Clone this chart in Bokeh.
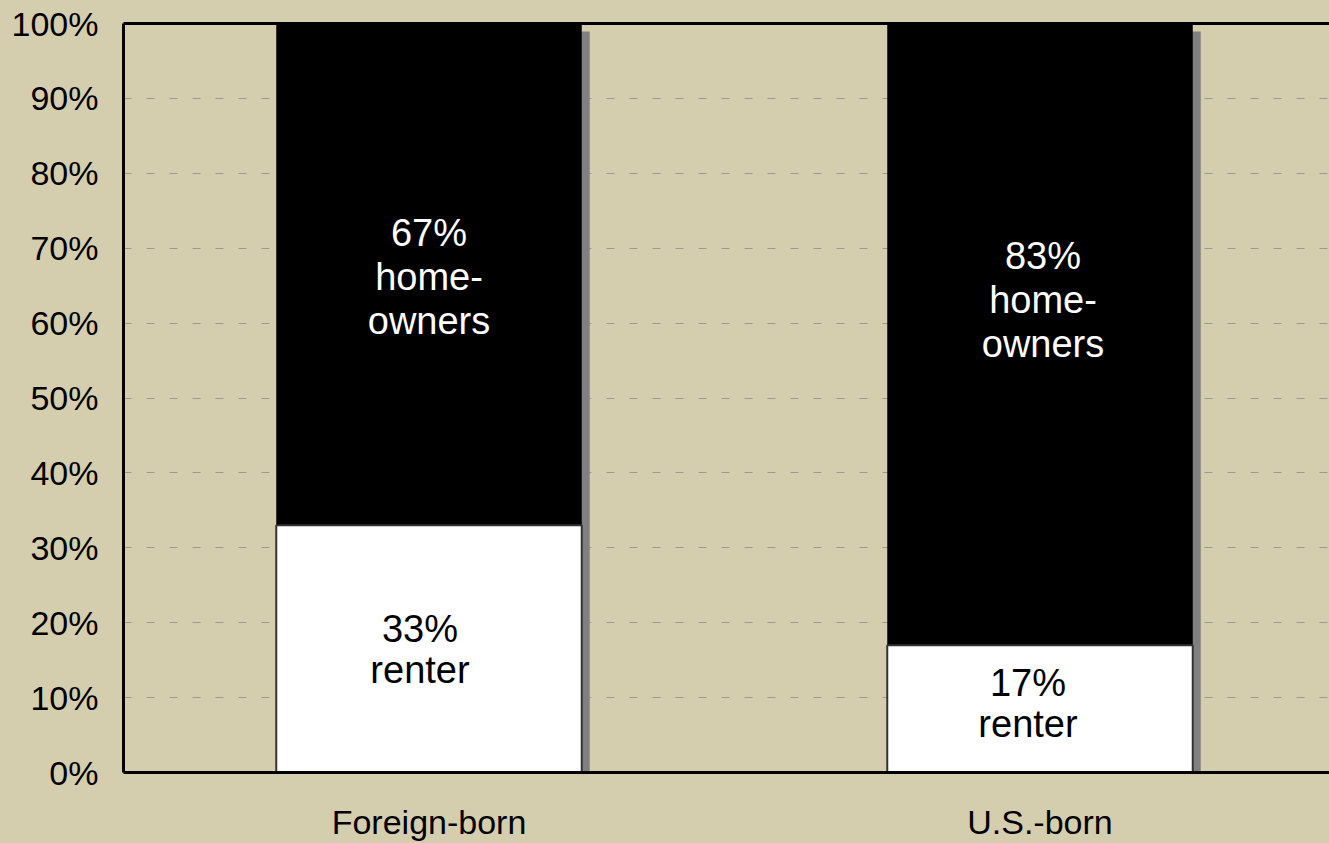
from bokeh.plotting import figure
from bokeh.models import Range1d, FixedTicker, LinearAxis
from bokeh.embed import file_html
from bokeh.resources import INLINE
from bokeh.core.properties import value

# ---- data ----
categories = ["Foreign-born", "U.S.-born"]
homeowner_pct = [67, 83]
renter_pct = [33, 17]
homeowner_labels = ["67%\nhome-\nowners", "83%\nhome-\nowners"]
renter_labels = ["33%\nrenter", "17%\nrenter"]
y_ticks = [0, 10, 20, 30, 40, 50, 60, 70, 80, 90, 100]
y_tick_labels = [f"{t}%" for t in y_ticks]

# ---- style / layout ----
BG = "#D5CEAE"
FONT = "Liberation Sans"
W, H = 1329, 843
LEFT, TOP = 123, 23
FRAME_H = 750
BOTTOM = H - TOP - FRAME_H
CAT_PX = 611.0
FRAME_W = W - LEFT
X_END = FRAME_W / CAT_PX
PX_PER_PCT = FRAME_H / 100.0
BAR_W = 0.5
SHADOW_PX = 8
home_label_dy = [-0.33, 4.6]
renter_label_dy = [-0.1, 0.7]
home_label_dx = [0, 3]
renter_label_dx = [-9, -12]

p = figure(width=W, height=H, x_range=Range1d(0, X_END), y_range=Range1d(0, 100),
           output_backend="svg", toolbar_location=None,
           min_border_left=LEFT, min_border_right=0, min_border_top=TOP,
           min_border_bottom=BOTTOM, background_fill_color=BG,
           border_fill_color=BG, outline_line_color=None)

centers = [i + 0.5 for i in range(len(categories))]
dx = SHADOW_PX / CAT_PX
dy = SHADOW_PX / PX_PER_PCT

totals = [h + r for h, r in zip(homeowner_pct, renter_pct)]

# shadows
p.quad(left=[c - BAR_W / 2 + dx for c in centers],
       right=[c + BAR_W / 2 + dx for c in centers],
       bottom=[0] * len(centers), top=[t - dy for t in totals],
       fill_color="#808080", line_color=None)

# homeowners (top, black)
p.quad(left=[c - BAR_W / 2 for c in centers], right=[c + BAR_W / 2 for c in centers],
       bottom=renter_pct, top=totals, fill_color="#000000", line_color=None)

# renters (bottom, white)
p.quad(left=[c - BAR_W / 2 for c in centers], right=[c + BAR_W / 2 for c in centers],
       bottom=[0] * len(centers), top=renter_pct, fill_color="#FFFFFF",
       line_color="#333333", line_width=2)

# labels
for i, c in enumerate(centers):
    p.text(x=[c], y=[renter_pct[i] + homeowner_pct[i] / 2 + home_label_dy[i]],
           text=[homeowner_labels[i]], x_offset=home_label_dx[i],
           text_align="center", text_baseline="middle", text_color="white",
           text_font=value(FONT), text_font_size="38px", text_line_height=1.04)
    p.text(x=[c], y=[renter_pct[i] / 2 + renter_label_dy[i]],
           text=[renter_labels[i]], x_offset=renter_label_dx[i],
           text_align="center", text_baseline="middle", text_color="black",
           text_font=value(FONT), text_font_size="38px", text_line_height=0.98)

# y axis
ya = p.yaxis[0]
ya.ticker = FixedTicker(ticks=y_ticks)
ya.major_label_overrides = dict(zip(y_ticks, y_tick_labels))
ya.major_tick_line_color = None
ya.minor_tick_line_color = None
ya.major_tick_out = 0
ya.major_tick_in = 0
ya.axis_line_width = 3
ya.axis_line_color = "black"
ya.major_label_text_font = FONT
ya.major_label_text_font_size = "34px"
ya.major_label_text_color = "black"
ya.major_label_standoff = 25

# x axis
xa = p.xaxis[0]
xa.ticker = FixedTicker(ticks=centers)
xa.major_label_overrides = dict(zip(centers, categories))
xa.major_tick_line_color = None
xa.minor_tick_line_color = None
xa.major_tick_out = 0
xa.major_tick_in = 0
xa.axis_line_width = 3
xa.axis_line_color = "black"
xa.major_label_text_font = FONT
xa.major_label_text_font_size = "34px"
xa.major_label_text_color = "black"
xa.major_label_standoff = 30

# top border line
top_axis = LinearAxis(axis_line_width=3, axis_line_color="black",
                      major_tick_line_color=None, minor_tick_line_color=None,
                      major_tick_out=0, major_tick_in=0,
                      major_label_text_font_size="0px", major_label_text_color=None,
                      major_label_standoff=0)
p.add_layout(top_axis, "above")

# grid
p.xgrid.grid_line_color = None
p.ygrid.ticker = FixedTicker(ticks=y_ticks[1:-1])
p.ygrid.grid_line_color = "#999999"
p.ygrid.grid_line_dash = "8 15"
p.ygrid.grid_line_width = 1

html = file_html(p, INLINE)
html = html.replace("</head>", "<style>html,body{background:#D5CEAE;}</style></head>", 1)
open("out.html", "w").write(html)
